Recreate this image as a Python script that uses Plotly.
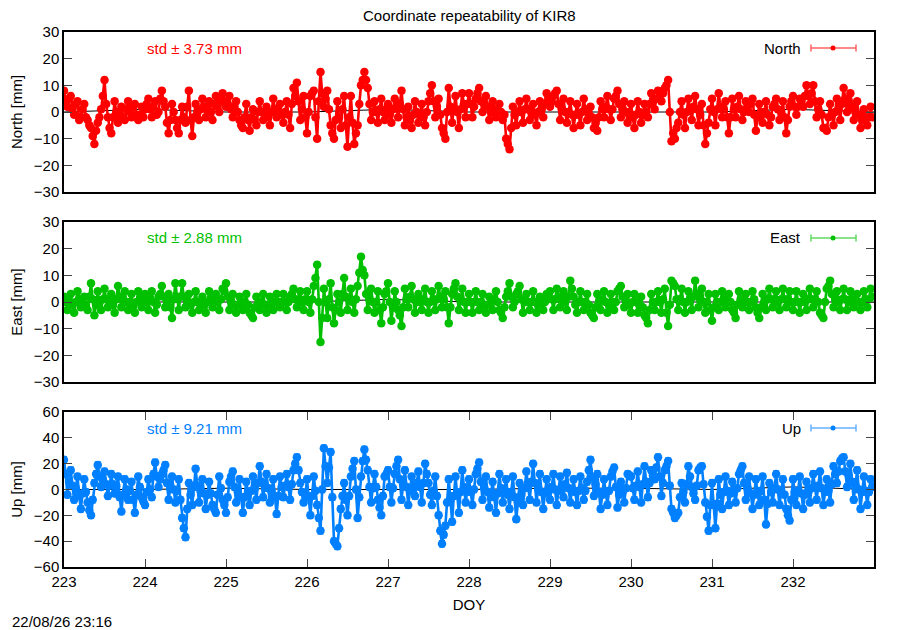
import numpy as np
import plotly.graph_objects as go

# Repetibilidade de coordenadas da estacao KIR8 (valores lidos do grafico,
# um valor por hora e outro na meia hora)
doy_ticks = [223, 224, 225, 226, 227, 228, 229, 230, 231, 232]
estacao = "KIR8"

north_hora = [
    8, 2, 6, -1, 4, -2, 3, -3, -6, -12, -4, 1, 12, -2, -8, 4, -4, 2, -3, 4, -2, 3, -3, 2,
    1, 5, -2, 4, 0, 8, 2, -8, 3, -3, -8, 2, -4, 8, -9, 3, -3, 5, -2, 4, -3, 6, 0, 7,
    2, 6, -2, 4, -3, -6, 3, -7, 1, -5, 4, -3, 2, -5, 5, -2, 3, -4, 4, -6, 9, 11, -3, 6,
    -8, 6, 8, -10, 15, 2, 8, -5, -10, 4, -6, 6, -13, 6, -12, -5, 10, 15, 9, -3, 4, -4, 5, -3,
    3, -4, 5, -2, 8, -5, 2, -6, 4, -4, 3, -5, 4, 10, -2, 5, -6, -10, 9, -4, 6, -6, 7, -2,
    7, -2, 5, 9, 0, 6, -3, 4, -2, 3, -3, -10, -14, 2, -5, 4, -4, 5, -3, 3, -5, 4, -2, 7,
    2, 6, 8, -3, 5, -4, 4, -6, 3, -5, 5, -3, 2, -6, -7, 4, -2, 6, -3, 5, 8, -2, 4, -4,
    3, -6, 4, -4, 3, -2, 7, 1, 8, 4, 9, 12, -11, -10, -4, 4, -6, 5, -3, 6, -5, 3, -12, -4,
    5, -5, 7, -2, 4, -8, 5, -2, 6, -3, 4, 0, 5, -7, 3, -4, 4, -5, 2, 5, -3, 4, -8, 2,
    6, -1, 5, 2, 10, 3, 10, -2, 4, -6, -7, 3, -5, 5, -3, 9, 0, 7, -3, 4, -6, 1, -5, 2,
]
north_meia = [
    4, 5, 1, 3, -3, 1, -2, -5, -9, -7, -2, 6, 3, -6, -2, 0, -1, -2, 1, 0, 2, -1, -1, -2,
    3, 1, 2, -1, 5, 4, -4, -3, 0, -6, -3, -2, 2, -3, -2, 0, 1, 2, 1, 0, 3, 2, 4, 4,
    3, 1, 2, 0, -5, -2, -3, -2, -3, 0, 0, -1, -2, 0, 1, 0, -1, 0, -1, 3, 6, 4, 1, -2,
    0, 7, -2, 4, 7, 5, 1, -8, -3, -2, 1, -5, -2, -4, -8, 3, 12, 12, 3, 0, 0, 1, 0, 1,
    -1, 1, 2, 3, 1, -2, -3, -1, 0, -1, -2, 0, 7, 4, 2, -1, -8, 0, 2, 1, 0, 1, 3, 3,
    3, 2, 7, 4, 3, 2, 0, 1, 0, 0, -1, -12, -6, -1, 0, 0, 1, 1, 0, -1, 0, 1, 3, 5,
    4, 7, 3, 1, 0, 0, -1, -1, -1, 0, 1, -1, -2, -4, -2, 1, 2, 1, 1, 6, 3, 1, 0, 0,
    -2, -1, 0, -1, 0, 3, 4, 5, 6, 7, 10, 0, -8, -6, 0, -1, 0, 1, 2, 1, -1, -5, -8, 1,
    0, 1, 2, 1, -2, -2, 1, 2, 1, 0, 2, 3, -1, -2, 0, 0, -1, -2, 3, 1, 0, -2, -3, 4,
    2, 2, 4, 6, 6, 7, 4, 1, -1, -6, -2, -1, 0, 1, 3, 5, 4, 2, 0, -1, -3, -2, -2, -2,
]

east_hora = [
    2, -3, 3, -4, 4, -2, 2, -3, 7, -5, 4, -3, 5, -2, 3, -4, 6, -2, 4, -3, 3, -4, 4, -2,
    3, -3, 4, -4, 2, 6, -2, 3, -6, 7, -3, 7, -2, 3, -4, 4, -3, 2, -4, 4, -2, 3, -3, 5,
    7, -3, 3, -4, 2, -3, 3, -4, -6, 2, -3, 3, -4, 2, -3, 3, -2, 3, -3, 2, 5, -2, 4, -3,
    4, -4, 6, 14, -15, 5, -6, 7, -8, 3, -4, 9, -3, 5, -4, 6, 17, 10, -3, 5, -4, 4, -8, 3,
    7, -7, 4, -3, -9, 5, -2, 6, -4, 3, -3, 5, -4, 4, -3, 6, -2, 4, -8, 3, 7, -3, 5, -4,
    3, -4, 4, -3, 3, -4, 2, -3, 4, -3, -6, 2, 7, -2, 3, 6, -4, 3, -3, 4, -4, 2, -3, 3,
    4, -3, 5, -2, 4, -3, 8, 2, -4, 4, -3, 3, -4, -6, 3, -3, 4, -4, 3, -3, 4, 6, -2, 3,
    -4, 3, -4, 2, -5, -8, 3, -3, 4, -4, 5, -9, 8, 6, -3, 5, -4, 4, -3, 8, -2, 5, -4, 3,
    -7, 3, -3, 4, -2, 3, -3, -6, 4, -2, 3, -3, 4, -2, -6, 3, -3, 5, -2, 4, -3, 5, -2, 4,
    -3, 4, -4, 3, -3, 5, -2, 4, -4, -6, 5, 8, -2, 4, -3, 5, -3, 4, -2, 3, -3, 4, -2, 5,
]
east_meia = [
    0, 0, -1, 0, 1, 0, -1, 2, 1, -1, 0, 1, 1, 0, -1, 1, 2, 1, 0, 0, -1, 0, 1, 0,
    0, 1, 0, -1, 3, 2, 0, -2, 1, 2, 2, 2, 0, -1, 0, 0, -1, -1, 0, 1, 0, 0, 1, 4,
    2, 0, -1, -1, 0, 0, -1, -5, -2, -1, 0, -1, -1, 0, 0, 0, 0, 0, 0, 3, 1, 1, 0, 1,
    0, 1, 9, 0, -6, 0, 1, -2, -3, 0, 3, 2, 1, 0, 1, 11, 12, 3, 1, 0, 0, -3, -2, 4,
    0, -2, 0, -5, -2, 1, 2, 1, 0, 0, 1, 0, 0, 1, 1, 2, 1, -2, -2, 5, 2, 1, 0, 0,
    0, 0, 0, 0, -1, -1, 0, 1, 0, -4, -2, 4, 2, 0, 4, 1, 0, 0, 0, 0, -1, 0, 0, 2,
    1, 1, 2, 1, 0, 2, 5, -1, 0, 0, 0, -1, -5, -2, 0, 1, 0, -1, 0, 0, 5, 2, 0, -1,
    0, 0, -1, -2, -6, -3, 0, 0, 0, 1, -4, -1, 7, 1, 1, 0, 0, 1, 2, 3, 1, 0, 0, -3,
    -2, 0, 0, 1, 0, 0, -4, -1, 1, 0, 0, 0, 1, -4, -2, 0, 1, 1, 1, 0, 1, 1, 1, 0,
    0, 0, 0, 0, 1, 1, 1, 0, -5, 0, 6, 3, 1, 0, 1, 1, 0, 1, 0, 0, 0, 1, 1, 2,
]

up_hora = [
    23, -4, 15, -8, 10, -15, 8, -10, -20, 5, 19, 2, 14, -5, 12, -3, 10, -17, 8, -8, 6, -18, 10, -6,
    -12, 8, -6, 21, 2, 12, 19, -8, 10, -10, 8, -22, -37, 5, -12, 16, -10, 8, -15, 6, -12, -18, 10, -8,
    -18, 6, 14, -10, 8, -18, 6, -12, 10, -8, 18, -6, 12, -10, 8, -19, 10, -6, 12, -8, 15, 25, 5, -10,
    8, -20, 10, -12, -32, 32, 5, 29, -40, -44, -15, 5, -20, 10, 22, -22, 10, 31, 15, -10, 12, -8, -20, 10,
    15, -10, 12, 23, -8, 15, -12, 10, -5, 14, -10, 20, 5, -12, 10, -20, -42, -28, 8, -25, 10, -18, 15, -10,
    8, -12, 12, 21, -8, 10, -14, 6, -18, 12, -10, 8, -15, 10, -23, 5, -12, 14, -8, 20, -10, 12, -15, 8,
    -8, 12, -12, 10, -6, 13, -10, 8, -12, 10, -8, 6, 23, -5, 12, -15, 8, -12, 10, 17, -14, 6, -10, 12,
    10, -8, 14, -10, 18, -6, 15, 8, 25, -5, 15, 22, -15, -22, -18, 5, -10, 18, 2, -8, 15, 18, -10, -32,
    5, -30, 8, -15, 10, -12, 6, -10, 12, 18, -8, 10, -15, 8, -12, 10, -27, 5, -10, 12, -12, 8, -15, -24,
    8, -12, 10, -15, 6, -10, 12, -8, 14, -12, 8, -10, 18, 5, 22, 25, 2, 20, -8, 15, -15, 10, -12, 8,
]
up_meia = [
    12, 6, 3, 1, -5, -3, -2, -16, -8, 12, 10, 8, 4, 3, 4, 3, -6, -4, 0, -1, -8, -4, 2, -9,
    -2, 0, 12, 10, 8, 15, 5, 1, 0, -1, -8, -30, -15, -4, 2, 3, -1, -3, -4, -3, -15, -4, 1, -12,
    -6, 10, 2, -1, -6, -6, -3, -1, 1, 5, 6, 3, 1, -1, -6, -5, 2, 3, 2, 4, 20, 15, -2, -5,
    -6, -5, -1, -22, 0, 18, 17, -6, -42, -30, -5, -8, -5, 16, 0, -6, 22, 23, 2, 1, 2, -14, -5, 12,
    2, 1, 18, 8, 4, 2, -1, 2, 5, 2, 5, 12, -4, -1, -5, -32, -35, -10, -8, -5, -4, -2, 2, -1,
    -2, 0, 16, 6, 1, -2, -4, -6, -3, 1, 0, -4, -2, -6, -10, -4, 1, 3, 6, 5, 1, -2, -3, 0,
    2, 0, -1, 2, 4, 1, -1, -2, -1, 1, -1, 15, 9, 4, -2, -4, -2, -1, 14, 2, -4, -2, 1, 11,
    1, 3, 2, 4, 6, 5, 11, 17, 10, 5, 18, 3, -18, -20, -6, -2, 4, 10, -3, 3, 17, 4, -21, -12,
    -12, -11, -4, -2, -1, -3, -2, 1, 15, 5, 1, -3, -4, -2, -1, -8, -11, -2, 1, 0, -2, -4, -20, -8,
    -2, -1, -3, -4, -2, 1, 2, 3, 1, -2, -1, 4, 12, 14, 24, 14, 11, 6, 3, 0, -2, -1, -2, 2,
]

# linha media (quase invisivel, por tras dos pontos)
media_doy = [223, 224, 225, 226, 227, 228, 229, 230, 231, 232, 233]
media_north = [0, 1, 0, 0, 1, 0, 0, 0, 0, 1, 0]
media_east = [0, 0, 0, 0, 1, 0, 0, 0, 0, 0, 0]
media_up = [0, 0, 1, 0, 0, 0, 1, 1, 0, 2, 0]

std_vals = {"North": 3.73, "East": 2.88, "Up": 9.21}
erro_ponto = {"North": 1.0, "East": 1.0, "Up": 2.5}


def intercalar(hora, meia):
    # junta os valores da hora cheia e da meia hora numa serie temporal unica
    v = np.empty(len(hora) + len(meia))
    v[0::2] = hora
    v[1::2] = meia
    return v


doy = 223 + np.arange(2 * len(north_hora)) / 48.0

# geometria: coordenadas da tela (900x630); a pagina tem margem de 8 px
OFF = 8
W, H = 900 - OFF, 630 - OFF
X0, X1 = 64, 874
Y_TOP, Y_BOT = 32, 567
paineis = [(32, 192), (222, 382), (412, 567)]


def py2paper(py):
    return (Y_BOT - py) / (Y_BOT - Y_TOP)


def px2paper(px):
    return (px - X0) / (X1 - X0)


series = [
    ("North", intercalar(north_hora, north_meia), media_north, "#ff0000", "#ff6060", [-30, 30], 10, "North [mm]"),
    ("East", intercalar(east_hora, east_meia), media_east, "#00c000", "#60d860", [-30, 30], 10, "East [mm]"),
    ("Up", intercalar(up_hora, up_meia), media_up, "#0080ff", "#66b0ff", [-60, 60], 20, "Up [mm]"),
]

fig = go.Figure()
fonte = dict(family="Liberation Sans, Arial, sans-serif", size=15, color="black")
shapes = []
annotations = []

for i, (nome, vals, media, cor, cor_clara, yr, dt, ylab) in enumerate(series):
    k = i + 1
    xa = "x" if k == 1 else f"x{k}"
    ya = "y" if k == 1 else f"y{k}"
    fig.add_trace(go.Scatter(
        x=media_doy, y=media, mode="lines", xaxis=xa, yaxis=ya,
        line=dict(color="black", width=1), showlegend=False, hoverinfo="skip"))
    fig.add_trace(go.Scatter(
        x=doy, y=vals, mode="lines+markers", xaxis=xa, yaxis=ya, name=nome,
        line=dict(color=cor, width=2.6),
        marker=dict(color=cor, size=8.5, symbol="circle"),
        error_y=dict(type="constant", value=erro_ponto[nome], color=cor, thickness=1, width=3),
        showlegend=False))

    top, bot = paineis[i]
    dom = [py2paper(bot), py2paper(top)]
    fig.layout[f"yaxis{'' if k == 1 else k}"] = dict(
        domain=dom, range=yr, dtick=dt, tick0=yr[0], ticks="inside", ticklen=8,
        tickcolor="#444", showline=True, linecolor="black", linewidth=1.5, mirror="allticks",
        showgrid=False, zeroline=False, tickfont=fonte, automargin=False,
        title=dict(text=ylab, font=fonte, standoff=11), anchor=xa)
    last = (k == 3)
    fig.layout[f"xaxis{'' if k == 1 else k}"] = dict(
        domain=[0, 1], range=[223, 233], tickvals=doy_ticks, ticks="inside" if last else "",
        ticklen=8, tickcolor="#444", showticklabels=last, showline=True, linecolor="black",
        linewidth=1.5, mirror="allticks" if last else True, showgrid=False, zeroline=False,
        tickfont=fonte, anchor=ya, automargin=False,
        title=dict(text="DOY", font=fonte, standoff=11) if last else None)

    # texto do desvio padrao
    annotations.append(dict(
        x=px2paper(145), y=py2paper(top + 16), xref="paper", yref="paper",
        text=f"std ± {std_vals[nome]:.2f} mm", showarrow=False, xanchor="left", align="left",
        yanchor="middle", font=dict(family=fonte["family"], size=15, color=cor)))

    # legenda no estilo gnuplot
    ly = py2paper(top + 16)
    annotations.append(dict(
        x=px2paper(803), y=ly, xref="paper", yref="paper", text=nome, showarrow=False,
        xanchor="right", align="right", yanchor="middle", font=fonte))
    cap = 3.5 / (Y_BOT - Y_TOP)
    shapes.append(dict(type="line", xref="paper", yref="paper", x0=px2paper(811), x1=px2paper(856),
                       y0=ly, y1=ly, line=dict(color=cor_clara, width=1.5)))
    for cx in (811, 856):
        shapes.append(dict(type="line", xref="paper", yref="paper", x0=px2paper(cx), x1=px2paper(cx),
                           y0=ly - cap, y1=ly + cap, line=dict(color=cor_clara, width=1.5)))
    r = 2.5
    shapes.append(dict(type="circle", xref="paper", yref="paper",
                       x0=px2paper(833 - r), x1=px2paper(833 + r),
                       y0=ly - r / (Y_BOT - Y_TOP), y1=ly + r / (Y_BOT - Y_TOP),
                       fillcolor=cor, line=dict(color=cor, width=0)))

annotations.append(dict(
    x=0.5, y=py2paper(15), xref="paper", yref="paper", text=f"Coordinate repeatability of {estacao}",
    showarrow=False, xanchor="center", yanchor="middle", font=fonte))
annotations.append(dict(
    x=px2paper(10), y=py2paper(621), xref="paper", yref="paper", text="22/08/26 23:16",
    showarrow=False, xanchor="left", align="left", yanchor="middle", font=fonte))

fig.update_layout(
    width=W, height=H, plot_bgcolor="white", paper_bgcolor="white",
    margin=dict(l=X0 - OFF, r=900 - X1, t=Y_TOP - OFF, b=630 - Y_BOT),
    shapes=shapes, annotations=annotations, showlegend=False, font=fonte)

fig.write_html("out.html")
